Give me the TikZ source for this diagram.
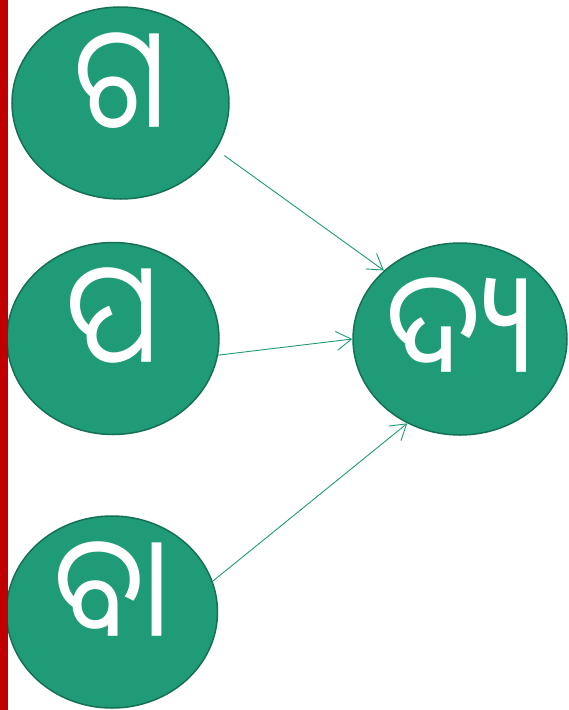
\documentclass[tikz,border=0pt]{standalone}
\usepackage{fontspec}
\usetikzlibrary{shapes.geometric,arrows.meta}
\newfontfamily\odiafont[Script=Oriya,FakeStretch=0.88]{Noto Sans Oriya UI}
\definecolor{leaf}{RGB}{31,155,119}
\definecolor{leafrim}{RGB}{22,112,85}
\definecolor{barred}{RGB}{192,0,0}
\begin{document}
\begin{tikzpicture}[x=1pt,y=-1pt]
            \tikzset{
	blob/.style={draw=leafrim, fill=leaf, ellipse, line width=1.5pt, inner sep=-30pt,
		minimum width=215pt, minimum height=192pt, text=white,
		font=\odiafont\fontsize{142}{142}\selectfont, text height=106pt, text depth=32pt},
	link/.style={draw=leaf, line width=.9pt, -{Straight Barb[length=15pt,width=19pt,line width=.9pt]}}
}
\useasboundingbox (0,0) rectangle (569,710);

\node[blob, minimum width=217pt] (ga) at (120.5,103) {ଗ};
\node[blob, minimum width=212pt] (pa) at (113,338.5) {ପ};
\node[blob, minimum width=211pt] (baa) at (112,612) {ବା};
\node[blob, minimum width=214pt, text height=124pt] (dya) at (460,339) {ଦ୍ୟ};

\draw[link, shorten <=10pt] (ga.-26) -- (dya.138.6);
\draw[link] (pa.-9.7) -- (dya.180);
\draw[link] (baa.17.2) -- (dya.-122.9);

\fill[barred] (0,0) rectangle (8,710);
        \end{tikzpicture}
\end{document}
